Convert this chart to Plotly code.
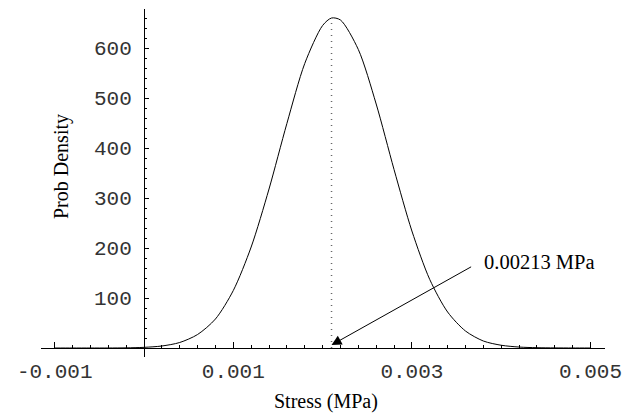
import plotly.graph_objects as go

# Curve values
stress = [-0.001, -0.0008, -0.0006, -0.0004, -0.0002, 0.0, 0.0002, 0.0004, 0.0006, 0.0008,
          0.001, 0.0012, 0.0014, 0.0016, 0.0018, 0.002, 0.0021, 0.0022, 0.0024, 0.0026,
          0.0028, 0.003, 0.0032, 0.0034, 0.0036, 0.0038, 0.004, 0.0042, 0.0044, 0.0046,
          0.0048, 0.005]
density = [0, 0, 0, 0, 0.3, 1.3, 4, 11, 27, 58,
           115, 202, 318, 449, 569, 645, 660, 656, 597, 488,
           357, 234, 137, 72, 34, 14, 5.5, 1.9, 0.6, 0.2,
           0.05, 0.01]

marker_x = [0.0021, 0.0021]
marker_y = [0, 660]

x_tickvals = [-0.001, 0.001, 0.003, 0.005]
x_ticktext = ["-0.001", "0.001", "0.003", "0.005"]
y_tickvals = [100, 200, 300, 400, 500, 600]
y_ticktext = ["100", "200", "300", "400", "500", "600"]

label_text = "0.00213 MPa"
arrow_tip = (0.0021, 6)
arrow_tail = (0.00368, 164)
label_pos = (0.00378, 172)

x_range = [-0.00115336, 0.0051624]
y_range = [-18, 678]

fig = go.Figure()
fig.add_trace(go.Scatter(x=stress, y=density, mode="lines", line=dict(color="black", width=1, shape="spline", smoothing=0.8),
                         hoverinfo="skip"))
fig.add_trace(go.Scatter(x=marker_x, y=marker_y, mode="lines", line=dict(color="#666", width=1.5, dash="1px,5px"),
                         hoverinfo="skip"))

ypos = (0 - y_range[0]) / (y_range[1] - y_range[0])
xpos = (0 - x_range[0]) / (x_range[1] - x_range[0])

tickfont = dict(family="Liberation Mono, Courier New, monospace", size=21, color="#333")

fig.update_layout(
    width=635, height=414,
    margin=dict(l=41, r=30, t=9, b=57),
    paper_bgcolor="white", plot_bgcolor="white",
    showlegend=False,
    xaxis=dict(range=x_range, showgrid=False, zeroline=False, showline=True, linecolor="black", linewidth=1,
               anchor="free", position=ypos, ticks="inside", ticklen=6, tickcolor="black",
               tickvals=x_tickvals, ticktext=x_ticktext, tickfont=tickfont, ticklabelstandoff=4,
               minor=dict(tick0=0, dtick=0.0002, ticks="inside", ticklen=3, tickcolor="black")),
    yaxis=dict(range=y_range, showgrid=False, zeroline=False, showline=True, linecolor="black", linewidth=1,
               anchor="free", position=xpos, ticks="inside", ticklen=4, tickcolor="black",
               tickvals=y_tickvals, ticktext=y_ticktext, tickfont=tickfont, ticklabelstandoff=8,
               minor=dict(tick0=0, dtick=20, ticks="inside", ticklen=2.5, tickcolor="black")),
)

fig.add_annotation(x=arrow_tip[0], y=arrow_tip[1], ax=arrow_tail[0], ay=arrow_tail[1],
                   xref="x", yref="y", axref="x", ayref="y", text="", showarrow=True,
                   arrowhead=2, arrowsize=2, arrowwidth=1, arrowcolor="black")
fig.add_annotation(x=label_pos[0], y=label_pos[1], xref="x", yref="y", text=label_text, showarrow=False,
                   xanchor="left", yanchor="middle",
                   font=dict(family="Liberation Serif, Times New Roman, serif", size=20.5, color="black"))
fig.add_annotation(x=(326 - 41) / 564, y=(357 - 401) / 348, xref="paper", yref="paper", text="Stress (MPa)",
                   showarrow=False, xanchor="center", yanchor="middle",
                   font=dict(family="Liberation Serif, Times New Roman, serif", size=20, color="black"))
fig.add_annotation(x=(62 - 41) / 564, y=(357 - 167) / 348, xref="paper", yref="paper", text="Prob Density",
                   showarrow=False, textangle=-90, xanchor="center", yanchor="middle",
                   font=dict(family="Liberation Serif, Times New Roman, serif", size=20, color="black"))

fig.write_html("out.html")
